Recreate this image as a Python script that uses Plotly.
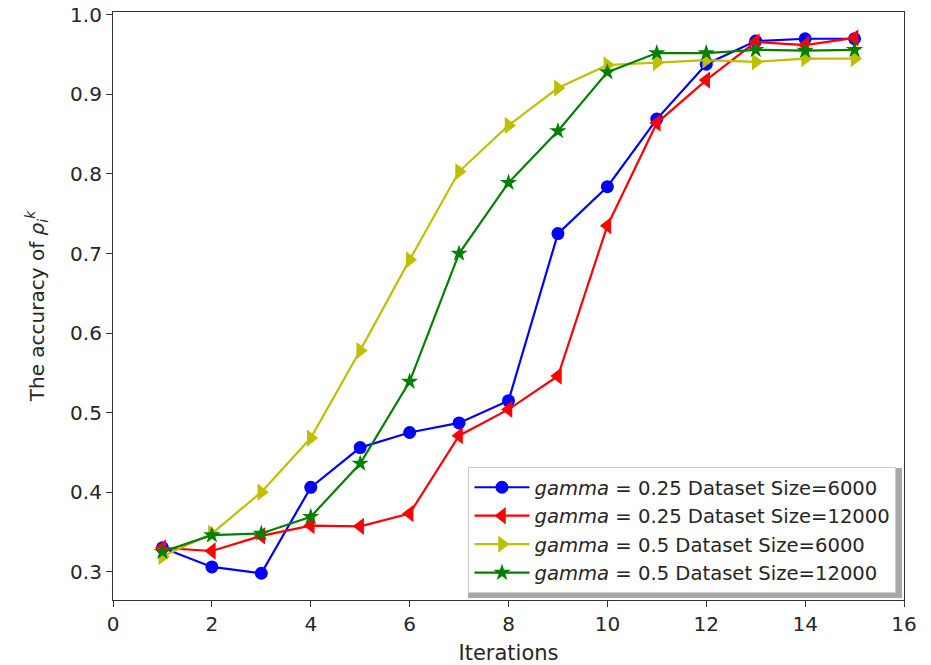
import plotly.graph_objects as go

iterations = list(range(1, 16))
blue_g025_6000 = [0.330, 0.306, 0.298, 0.406, 0.456, 0.475, 0.487, 0.515, 0.725, 0.784, 0.869, 0.938, 0.967, 0.970, 0.970]
red_g025_12000 = [0.330, 0.326, 0.345, 0.358, 0.357, 0.373, 0.471, 0.504, 0.546, 0.735, 0.864, 0.918, 0.966, 0.962, 0.971]
yellow_g05_6000 = [0.319, 0.348, 0.400, 0.468, 0.578, 0.692, 0.803, 0.861, 0.908, 0.937, 0.940, 0.943, 0.941, 0.945, 0.945]
green_g05_12000 = [0.325, 0.346, 0.348, 0.369, 0.436, 0.539, 0.700, 0.789, 0.854, 0.928, 0.952, 0.952, 0.956, 0.955, 0.956]

names = [
    "<i>gamma</i> = 0.25 Dataset Size=6000",
    "<i>gamma</i> = 0.25 Dataset Size=12000",
    "<i>gamma</i> = 0.5 Dataset Size=6000",
    "<i>gamma</i> = 0.5 Dataset Size=12000",
]
series = [blue_g025_6000, red_g025_12000, yellow_g05_6000, green_g05_12000]
colors = ["#0000ff", "#ff0000", "#bfbf00", "#008000"]
symbols = ["circle", "triangle-left", "triangle-right", "star"]
sizes = [13, 15, 15, 13]

FONT = "DejaVu Sans"
TXT = "#262626"

fig = go.Figure()
for name, ys, c, s, sz in zip(names, series, colors, symbols, sizes):
    fig.add_trace(go.Scatter(
        x=iterations, y=ys, name=name, mode="lines+markers",
        line=dict(color=c, width=2.2),
        marker=dict(color=c, symbol=s, size=sz, line=dict(width=0)),
    ))

# legend shadow
fig.add_shape(type="rect", xref="paper", yref="paper",
              x0=0.4488, x1=0.9975, y0=0.0034, y1=0.2245,
              fillcolor="#a8a8a8", line=dict(width=0), layer="above")

fig.update_layout(
    width=931, height=665,
    margin=dict(l=113, r=27, t=12, b=65, autoexpand=False),
    paper_bgcolor="white", plot_bgcolor="white",
    font=dict(family=FONT, size=20, color=TXT),
    showlegend=True,
    legend=dict(
        x=0.9905, y=0.0119, xanchor="right", yanchor="bottom",
        bgcolor="white", bordercolor="#cccccc", borderwidth=1,
        font=dict(family=FONT, size=19.6, color=TXT),
        itemwidth=55, tracegroupgap=0,
    ),
    xaxis=dict(
        range=[0, 16], tickvals=list(range(0, 17, 2)),
        showgrid=False, zeroline=False, automargin=False,
        showline=True, linecolor="#333333", linewidth=1.2, mirror=True,
        ticks="outside", ticklen=6, tickcolor="#333333",
        tickfont=dict(family=FONT, size=20, color=TXT),
        title=dict(text="Iterations", font=dict(family=FONT, size=21, color=TXT), standoff=10),
    ),
    yaxis=dict(
        range=[0.2644, 1.0036], tickvals=[0.3, 0.4, 0.5, 0.6, 0.7, 0.8, 0.9, 1.0],
        tickformat=".1f",
        showgrid=False, zeroline=False, automargin=False,
        showline=True, linecolor="#333333", linewidth=1.2, mirror=True,
        ticks="outside", ticklen=6, tickcolor="#333333",
        tickfont=dict(family=FONT, size=20, color=TXT),
        title=dict(text="The accuracy of <i>ρ</i><sub><i>i</i></sub><sup><i>k</i></sup>",
                   font=dict(family=FONT, size=20, color=TXT), standoff=20),
    ),
)

fig.write_html("out.html", config={"displayModeBar": False},
               post_script="document.body.style.margin='0';")
